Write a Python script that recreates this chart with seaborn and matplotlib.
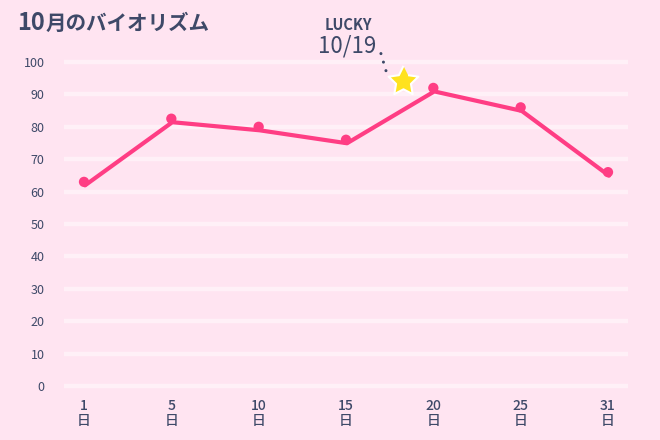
"""
October biorhythm line chart (pink theme) with a LUCKY day star
"""

import numpy as np
import pandas as pd
import seaborn as sns
import matplotlib.pyplot as plt
from matplotlib.transforms import ScaledTranslation

# --- 1. DATA ---
days = [1, 5, 10, 15, 20, 25, 31]
rhythm = [63, 82.5, 80, 76, 92, 86, 66]
yticks = [0, 10, 20, 30, 40, 50, 60, 70, 80, 90, 100]

title_num = "10"
title_rest = "月のバイオリズム"
lucky_label = "LUCKY"
lucky_date = "10/19"
lucky_pos = 3.65      # between 15日 and 20日 on the category axis
lucky_value = 94
leader_x = [3.40, 3.46]
leader_y = [102.6, 97.1]

# colours
bg = "#FFE4F1"
pink = "#FF3D84"
navy = "#3E4968"
grid_col = "#FFF0F7"
star_col = "#FFE21F"

# --- 2. STYLE ---
sns.set_theme(style="white")
plt.rcParams['font.family'] = ['Noto Sans CJK JP', 'DejaVu Sans']

df = pd.DataFrame({'pos': range(len(days)), 'value': rhythm})

fig = plt.figure(figsize=(6.6, 4.4), dpi=100, facecolor=bg)
ax = fig.add_axes([64 / 660, 54 / 440, 564 / 660, 324 / 440])
ax.set_facecolor(bg)

# soft horizontal bands
for v in yticks:
    ax.axhline(v, color=grid_col, lw=3.2, zorder=0, clip_on=False,
               solid_capstyle='butt')

# --- 3. LINE + POINTS ---
sns.lineplot(data=df, x='pos', y='value', color=pink, lw=3, ax=ax,
             zorder=2)
# the line sits a few pixels below the dots in the original
line = ax.lines[-1]
line.set_transform(ax.transData + ScaledTranslation(1 / 100, -3.5 / 100,
                                                    fig.dpi_scale_trans))
line.set_solid_joinstyle('round')
line.set_solid_capstyle('round')

sns.scatterplot(data=df, x='pos', y='value', color=pink, s=55,
                edgecolor='none', ax=ax, zorder=3, clip_on=False)

# lucky star
ang = np.pi / 2 + np.arange(10) * np.pi / 5
rad = np.where(np.arange(10) % 2 == 0, 1.0, 0.5)
star = np.column_stack([rad * np.cos(ang), rad * np.sin(ang)])
ax.plot([lucky_pos], [lucky_value], marker=star, ms=22.5, mfc=star_col,
        mec='white', mew=1.5, clip_on=False, zorder=5, ls='none')

# dotted leader from the date to the star
ax.plot(leader_x, leader_y, color=navy, lw=2.2, ls=(0, (0.01, 2.9)),
        dash_capstyle='round', clip_on=False, zorder=4)

# --- 4. AXES ---
ax.set_xlim(-0.229, 6.229)
ax.set_ylim(0, 100)
ax.set_xticks(df['pos'])
ax.set_xticklabels([f"{d}\n日" for d in days], linespacing=1.1,
                   fontweight='medium')
ax.set_yticks(yticks)
ax.tick_params(axis='x', length=0, pad=9, labelsize=10, labelcolor=navy)
ax.tick_params(axis='y', length=0, pad=14, labelsize=9, labelcolor=navy)
ax.set_xlabel('')
ax.set_ylabel('')
sns.despine(ax=ax, left=True, bottom=True)

# --- 5. TEXTS ---
base_y = 1 - 30 / 440
t1 = fig.text(17 / 660, base_y, title_num, fontsize=17, fontweight='bold',
              color=navy, va='baseline')
renderer = fig.canvas.get_renderer()
bb = t1.get_window_extent(renderer)
fig.text((bb.x1 + 1) / 660, base_y, title_rest, fontsize=14.8,
         fontweight='bold', color=navy, va='baseline')

fig.text(348 / 660, 1 - 25 / 440, lucky_label, fontsize=10.5,
         fontweight='bold', color=navy, ha='center', va='center')
fig.text(347 / 660, 1 - 46 / 440, lucky_date, fontsize=16,
         color=navy, ha='center', va='center')

fig.savefig('out.png', dpi=100, facecolor=bg)
